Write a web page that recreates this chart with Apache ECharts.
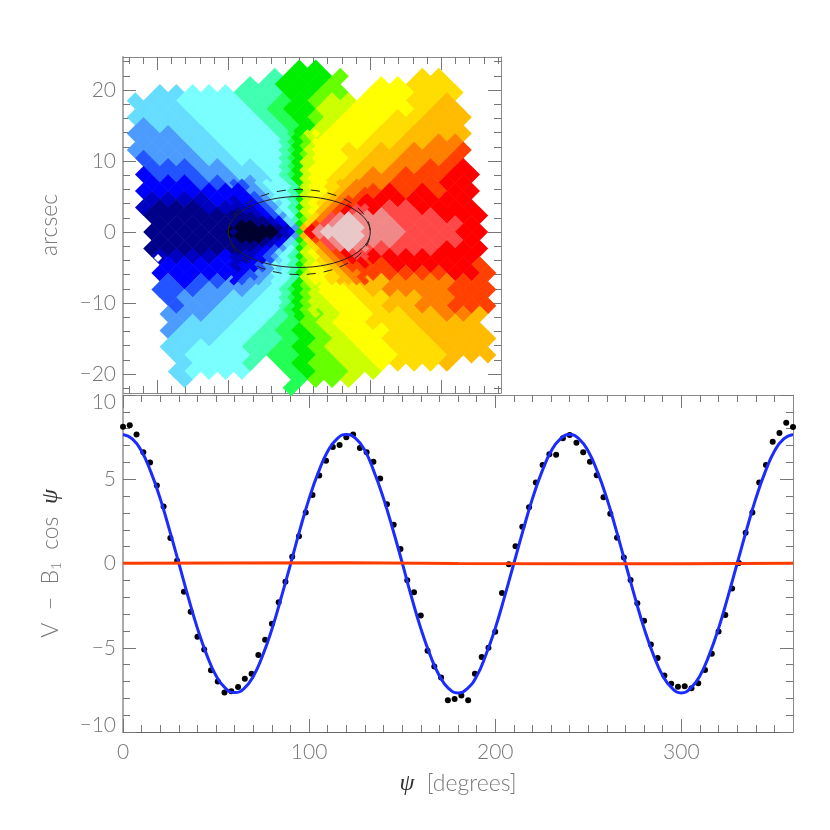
<!DOCTYPE html>
<html>
<head>
<meta charset="utf-8">
<title>velocity map and harmonic fit</title>
<style>html,body{margin:0;padding:0;background:#fff}</style>
<script src="https://cdn.jsdelivr.net/npm/echarts@6/dist/echarts.min.js"></script>
</head>
<body>
<div id="main" style="width:830px;height:830px"></div>
<script type="text/javascript">
// colour levels of the map, 0 = darkest blue ... 21 = palest
var levelColors = ['#00002e','#000088','#0000c0','#0000ff','#2255ff','#4c9cff','#66ddff','#7affff','#40ffb0','#22ff55','#00ee00',
    '#66ff00','#ccff00','#ffff00','#ffdd00','#ffbb00','#ff8000','#ff4000','#ff0000','#ff4848','#f08888','#e8c8c8'];

// coarse map, one string per row from top to bottom, one level per cell (base 36), '.' = no data
var coarseRows = [
    '...........AA',
    '.........8AAAB....EE',
    '........88AAAB..DDEEE',
    '..66777888AABB.DDDEEE',
    '.6667777889ABCCDDDEEF',
    '.666777789AACCDDDDEFF',
    '.6666777789ABCDDDEEFFF',
    '.5666777789ACDDDEEFFF',
    '.5556677778ACDDDEEFFFF',
    '.5556677778BDDDEEFFGG',
    '.5555667777ADDEEFFGGGH',
    '.4555667778CDDEFFGGGH',
    '..444556677ADDEFFGGHHI',
    '.3444556678CDEFGGHHHII',
    '..333445567ADEFGGHHHII',
    '.3333334568DEGHHIHIHII',
    '..222233457ADFHIIIIIII',
    '.2111222347DGIJIJJIIII',
    '..111111235AHJKKKJJJIII',
    '..111110125GJKLKKJJJJI',
    '..111110002AKLLKKKJJJII',
    '..111111125GJKKKKJJJJI',
    '..111111236AFIJJJJJJIII',
    '..222233469CFHIIIIIIII',
    '...33333457ADFGHHIIIIIH',
    '..333334568CDFGHHHHHIIH',
    '...43445567ACDEFFGGGGHH',
    '..444555678BDDEFGGGGHHH',
    '...45556677ACDDEEFFGGHH',
    '...45566779BCDDEFFGGHHH',
    '...55566778ABCDDEEFFGGF',
    '...56667789BCDDEEEFFFF',
    '...56667789ABCDDDEEFFFF',
    '...66677889ABCDDEEEFFFF',
    '...66777889ABCCDDEEEFFF',
    '...67777899ABCCDDEEEFFF',
    '....67778.9ABBCCDEEEF',
    '...67777..9ABBCC',
    '....6......9BBC',
    '..........9'
];
var coarseTopRow = 20;   // lattice row of the first string

// finer cells round the centre, and the thin green strip above and below it
var fineRows = [
    '......89ACD',
    '......8ABC',
    '......89ABD',
    '......8ABC',
    '......89ACD',
    '......8ABC',
    '......89ACD',
    '......8ACC',
    '......89ACD',
    '......8ACD',
    '......89ACD',
    '......8ACD',
    '44567778ACDDEFFGG',
    '34567778CDDEEFGG',
    '33556778ACDDEFGGH',
    '33456778CDDEFGGH',
    '23345778ACDEFGHHI',
    '23345678CDEFGHHI',
    '22234578ACDFGHIJJ',
    '12234678CDFGHIJJ',
    '11123457ACEGJKLKK',
    '11112368BEGJKLLK',
    '10011236AEHJKLLLK',
    '00000125FIKLLLLL',
    '10000023AIKLLLLLK',
    '00000125FIKLLLLL',
    '10001236AEHJKLLLK',
    '11112368BEGJKLLK',
    '11123457ACEGJKLKK',
    '12234678CDFGHIJJ',
    '22234578ACDFGHIJJ',
    '22334678BCEFGHII',
    '23345778ACDEFGHHI',
    '23345678BDDEFGHH',
    '33455778ACDDEFGGH',
    '34456778CDDEEFGH',
    '34556778ACDDEFFGH',
    '......8ABC',
    '......89ABC',
    '......8ABC',
    '......89ABC',
    '......8ABC',
    '......89ABC',
    '......9ABC',
    '......89ABC'
];
var fineTopRow = 24;

var badBins = [[-19.9, -3.66]];
// cx, cy, semi-major, semi-minor, dashed
var ellipses = [[0, 0, 10, 5, 0], [0, 0, 10, 6, 1]];

// dots, 100 of them evenly over 0-360
var dotValues = [8.11,8.2,7.66,6.6,5.99,4.63,3.38,1.51,0.17,-1.67,-2.87,-4.35,-5.1,-6.34,-7.01,-7.66,-7.58,-7.33,-6.84,-6.54,
    -5.43,-4.53,-3.58,-2.3,-1.09,0.4,1.61,3.03,4.07,5.22,6.1,6.91,7.03,7.49,7.66,6.85,6.6,6.04,5.04,3.52,
    2.3,0.86,-1.0,-1.71,-3.09,-5.18,-6.12,-6.76,-8.12,-8.04,-7.84,-8.12,-6.54,-5.55,-5.0,-4.05,-1.75,-0.05,1.02,2.18,
    3.34,4.8,5.85,6.48,6.46,7.43,7.62,7.17,6.6,6.04,5.24,3.93,2.95,1.53,0.35,-0.98,-2.36,-3.4,-4.8,-5.61,
    -6.64,-7.13,-7.31,-7.29,-7.41,-7.11,-6.32,-5.36,-4.03,-3.05,-1.49,0.03,1.83,3.03,4.8,5.85,7.23,7.74,8.35,8.1];

// blue curve, one value per 5 degrees
var fitValues = [7.66,7.4,6.66,5.42,3.85,1.98,0.02,-1.98,-3.85,-5.42,-6.66,-7.4,-7.66,-7.42,-6.7,-5.47,-3.9,-2.02,-0.05,1.98,3.85,5.42,6.66,7.4,7.66,
    7.42,6.7,5.42,3.85,2.02,0.05,-1.98,-3.85,-5.42,-6.66,-7.42,-7.68,-7.42,-6.7,-5.42,-3.85,-1.98,0.0,1.98,3.85,5.42,6.66,7.4,7.66,
    7.4,6.66,5.42,3.85,1.98,0.0,-1.98,-3.85,-5.42,-6.66,-7.4,-7.68,-7.4,-6.66,-5.42,-3.85,-1.98,0.0,1.98,3.85,5.42,6.66,7.4,7.66];
// red curve, one value per 60 degrees
var flatValues = [0.02,0.03,0.04,0.0,-0.02,-0.02,0.01];

var mapXMajor = [-20,-10,0,10,20];
var mapXMinor = [-24,-22,-18,-16,-14,-12,-8,-6,-4,-2,2,4,6,8,12,14,16,18,22,24,26,28];
var mapYMajor = [-20,-10,0,10,20];
var mapYMinor = [-22,-18,-16,-14,-12,-8,-6,-4,-2,2,4,6,8,12,14,16,18,22,24];
var psiMajor = [0,100,200,300];
var psiMinor = [10,20,30,40,50,60,70,80,90,110,120,130,140,150,160,170,180,190,210,220,230,240,250,260,270,280,290,310,320,330,340,350];
var velMajor = [-10,-5,0,5,10];
var velMinor = [-9,-8,-7,-6,-4,-3,-2,-1,1,2,3,4,6,7,8,9];

var step = 1.155;   // arcsec between coarse rows
function lattice(rows, topRow, unit, firstEven, firstOdd) {
    var out = [];
    rows.forEach(function (row, r) {
        var k = topRow - r;
        var first = (k % 2 === 0) ? firstEven : firstOdd;
        for (var c = 0; c < row.length; c++) {
            if (row[c] === '.') continue;
            out.push([(first + 2 * c) * unit, k * unit, parseInt(row[c], 36)]);
        }
    });
    return out;
}
var coarseCells = lattice(coarseRows, coarseTopRow, step, -22, -21);
var fineCells = lattice(fineRows, fineTopRow, step / 2, -16, -15);

var fontName = 'Lato';
var grey = '#777';

// one panel side = an axis with the long ticks and one with the short ones
function sideAxes(isX, grid, lim, major, minor, labelled, clampEnds, extra) {
    var pos = isX ? ['bottom', 'top'] : ['left', 'right'];
    var list = [];
    pos.forEach(function (p, i) {
        var label = {show: false};
        if (labelled && i === 0) {
            label = {
                show: true, customValues: major, color: grey, fontFamily: fontName, fontWeight: 300, fontSize: 21, lineHeight: 14,
                margin: isX ? 13 : 7,
                formatter: function (v) { return String(v).replace('-', '\u2212'); }
            };
            if (clampEnds) {
                label.verticalAlignMinLabel = 'bottom';
                label.verticalAlignMaxLabel = 'top';
            }
        }
        var lineStyle = {color: '#888', width: 1};
        if (p === 'left') lineStyle = {color: '#aaa', width: 2};
        if (p === 'bottom' && grid === 1) lineStyle = {color: '#666', width: 1};
        var main = {
            type: 'value', gridIndex: grid, position: p, min: lim[0], max: lim[1], splitLine: {show: false},
            axisLine: {show: true, onZero: false, lineStyle: lineStyle},
            axisTick: {show: true, inside: true, length: 13, customValues: major, lineStyle: {color: '#777'}},
            axisLabel: label
        };
        if (i === 0 && extra) Object.assign(main, extra);
        list.push(main);
        list.push({
            type: 'value', gridIndex: grid, position: p, min: lim[0], max: lim[1], splitLine: {show: false},
            axisLine: {show: false, onZero: false},
            axisTick: {show: true, inside: true, length: 7, customValues: minor, lineStyle: {color: '#777'}},
            axisLabel: {show: false}
        });
    });
    return list;
}

var nameStyle = {color: grey, fontFamily: fontName, fontWeight: 300, fontSize: 23,
    rich: {
        sub: {fontSize: 13, color: grey, fontFamily: fontName, fontWeight: 300, verticalAlign: 'bottom', padding: [9, 0, 0, 0]},
        psi: {fontSize: 24, color: '#333', fontFamily: 'Liberation Serif', fontStyle: 'italic'}
    }};

var xAxes = sideAxes(true, 0, [-24.83, 28.41], mapXMajor, mapXMinor, false, false)
    .concat(sideAxes(true, 1, [0, 360], psiMajor, psiMinor, true, false, {
        name: '{psi|\u03c8}  [degrees]', nameLocation: 'middle', nameGap: 40, nameTextStyle: nameStyle}));
var yAxes = sideAxes(false, 0, [-22.68, 24.65], mapYMajor, mapYMinor, true, false, {
        name: 'arcsec', nameLocation: 'middle', nameGap: 62, nameTextStyle: nameStyle})
    .concat(sideAxes(false, 1, [-10, 10], velMajor, velMinor, true, true, {
        name: 'V  \u2212  B{sub|1}  cos  {psi|\u03c8}', nameLocation: 'middle', nameGap: 60, nameTextStyle: nameStyle}));

var myChart = echarts.init(document.getElementById('main'));
myChart.setOption({
    animation: false,
    backgroundColor: '#fff',
    grid: [
        {left: 123, top: 57, width: 378, height: 336},
        {left: 123, top: 395, width: 670, height: 337}
    ],
    xAxis: xAxes,
    yAxis: yAxes,
    visualMap: {show: false, type: 'continuous', seriesIndex: [0, 1], dimension: 2, min: 0, max: levelColors.length - 1, inRange: {color: levelColors}},
    series: [
        {type: 'scatter', xAxisIndex: 0, yAxisIndex: 0, data: coarseCells, symbol: 'diamond', symbolSize: 17, itemStyle: {opacity: 1}, progressive: 0, silent: true},
        {type: 'scatter', xAxisIndex: 0, yAxisIndex: 0, data: fineCells, symbol: 'diamond', symbolSize: 8.8, itemStyle: {opacity: 1}, progressive: 0, silent: true},
        {type: 'scatter', xAxisIndex: 0, yAxisIndex: 0, data: badBins, symbol: 'diamond', symbolSize: 8, itemStyle: {color: '#fff', opacity: 1}, silent: true},
        {type: 'custom', xAxisIndex: 0, yAxisIndex: 0, data: ellipses, silent: true, z: 5, encode: {x: 0, y: 1},
            renderItem: function (params, api) {
                var c = api.coord([api.value(0), api.value(1)]);
                var s = api.size([api.value(2), api.value(3)]);
                return {type: 'ellipse', shape: {cx: c[0], cy: c[1], rx: s[0], ry: s[1]},
                    style: {fill: null, stroke: '#222', lineWidth: 1, lineDash: api.value(4) ? [9, 8] : null}};
            }},
        {type: 'scatter', xAxisIndex: 4, yAxisIndex: 4, symbolSize: 6, itemStyle: {color: '#000', opacity: 1}, silent: true,
            data: dotValues.map(function (v, i) { return [i * 360 / 99, v]; })},
        {type: 'line', xAxisIndex: 4, yAxisIndex: 4, showSymbol: false, silent: true, smooth: true, lineStyle: {color: '#1a2cff', width: 3},
            data: fitValues.map(function (v, i) { return [i * 5, v]; })},
        {type: 'line', xAxisIndex: 4, yAxisIndex: 4, showSymbol: false, silent: true, lineStyle: {color: '#ff3c00', width: 3},
            data: flatValues.map(function (v, i) { return [i * 60, v]; })}
    ]
});
</script>
</body>
</html>
